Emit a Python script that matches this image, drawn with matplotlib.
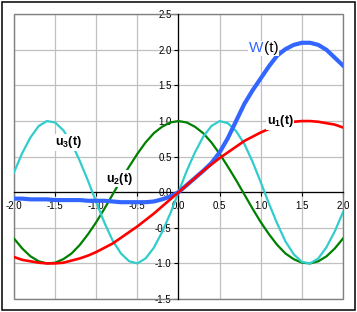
"""Four curves u1, u2, u3 and W(t) on crossed axes, Excel-style chart."""

import matplotlib
matplotlib.use("Agg")
import matplotlib.pyplot as plt
from matplotlib.patches import Rectangle

plt.rcParams["font.family"] = ["Liberation Sans", "DejaVu Sans"]
plt.rcParams["mathtext.fontset"] = "custom"
plt.rcParams["mathtext.rm"] = "Liberation Sans"
plt.rcParams["mathtext.bf"] = "Liberation Sans:bold"

t = [-2.0, -1.9, -1.8, -1.7, -1.6, -1.5, -1.4, -1.3, -1.2, -1.1, -1.0,
     -0.9, -0.8, -0.7, -0.6, -0.5, -0.4, -0.3, -0.2, -0.1, 0.0,
     0.1, 0.2, 0.3, 0.4, 0.5, 0.6, 0.7, 0.8, 0.9, 1.0,
     1.1, 1.2, 1.3, 1.4, 1.5, 1.6, 1.7, 1.8, 1.9, 2.0]

u1 = [-0.91, -0.95, -0.97, -0.99, -1.00, -1.00, -0.99, -0.96, -0.93, -0.89, -0.84,
      -0.78, -0.72, -0.64, -0.56, -0.48, -0.39, -0.30, -0.20, -0.10, 0.00,
      0.10, 0.20, 0.30, 0.39, 0.48, 0.56, 0.64, 0.72, 0.78, 0.84,
      0.89, 0.93, 0.96, 0.99, 1.00, 1.00, 0.99, 0.97, 0.95, 0.91]

u2 = [-0.65, -0.79, -0.90, -0.97, -1.00, -0.99, -0.94, -0.86, -0.74, -0.59, -0.42,
      -0.23, -0.03, 0.17, 0.36, 0.54, 0.70, 0.83, 0.92, 0.98, 1.00,
      0.98, 0.92, 0.83, 0.70, 0.54, 0.36, 0.17, -0.03, -0.23, -0.42,
      -0.59, -0.74, -0.86, -0.94, -0.99, -1.00, -0.97, -0.90, -0.79, -0.65]

u3 = [0.28, 0.55, 0.77, 0.93, 1.00, 0.98, 0.87, 0.69, 0.44, 0.16, -0.14,
      -0.43, -0.68, -0.86, -0.97, -1.00, -0.93, -0.78, -0.56, -0.30, 0.00,
      0.30, 0.56, 0.78, 0.93, 1.00, 0.97, 0.86, 0.68, 0.43, 0.14,
      -0.16, -0.44, -0.69, -0.87, -0.98, -1.00, -0.93, -0.77, -0.55, -0.28]

W = [-0.09, -0.09, -0.10, -0.10, -0.10, -0.11, -0.11, -0.11, -0.11, -0.12, -0.12,
     -0.12, -0.13, -0.14, -0.14, -0.14, -0.14, -0.13, -0.10, -0.06, 0.00,
     0.10, 0.20, 0.30, 0.41, 0.56, 0.76, 1.00, 1.24, 1.43, 1.60,
     1.77, 1.92, 2.01, 2.07, 2.10, 2.10, 2.07, 2.00, 1.89, 1.78]

ticks_x = [-2.0, -1.5, -1.0, -0.5, 0.0, 0.5, 1.0, 1.5, 2.0]
ticks_y = [-1.5, -1.0, -0.5, 0.0, 0.5, 1.0, 1.5, 2.0, 2.5]

fig = plt.figure(figsize=(3.57, 3.12), dpi=100)
ax = fig.add_axes([14 / 357, 13 / 312, 329 / 357, 284.7 / 312])

ax.plot(t, u2, color="#008000", lw=1.6, zorder=3)
ax.plot(t, u3, color="#33CCCC", lw=1.6, zorder=3)
ax.plot(t, W, color="#3366FF", lw=3.0, zorder=3)
ax.plot(t, u1, color="#FF0000", lw=1.9, zorder=3)

ax.set_xlim(-2, 2)
ax.set_ylim(-1.5, 2.5)
ax.set_xticks(ticks_x)
ax.set_yticks(ticks_y)
ax.set_xticklabels([f"{v:.1f}" for v in ticks_x])
ax.set_yticklabels([f"{v:.1f}" for v in ticks_y])
ax.grid(True, color="#C0C0C0", lw=0.9)
ax.set_axisbelow(True)

for side in ("top", "right"):
    ax.spines[side].set_visible(False)
ax.spines["left"].set_position(("data", 0))
ax.spines["bottom"].set_position(("data", 0))
ax.spines["left"].set_linewidth(0.9)
ax.spines["bottom"].set_linewidth(0.9)
ax.spines["left"].set_zorder(2.5)
ax.spines["bottom"].set_zorder(2.5)
ax.add_patch(Rectangle((0, 0), 1, 1, transform=ax.transAxes, fill=False,
                       edgecolor="#808080", lw=1.0, clip_on=False, zorder=2))
ax.tick_params(direction="out", length=3, width=0.8, labelsize=7, pad=2)
ax.tick_params(axis="x", pad=3)

box = dict(facecolor="white", edgecolor="none", pad=0.5)
ax.text(1.035, 2.02, "W", color="#3366FF", fontsize=11, ha="right",
        va="center", bbox=box, zorder=6)
ax.text(1.035, 2.02, "(t)", color="black", fontsize=11, ha="left",
        va="center", bbox=box, zorder=5)
ax.text(1.235, 1.0, r"$\mathbf{u}_\mathbf{1}\mathbf{(t)}$", fontsize=9,
        ha="center", va="center", bbox=box, zorder=5)
ax.text(-0.72, 0.19, r"$\mathbf{u}_\mathbf{2}\mathbf{(t)}$", fontsize=9,
        ha="center", va="center", bbox=box, zorder=5)
ax.text(-1.34, 0.70, r"$\mathbf{u}_\mathbf{3}\mathbf{(t)}$", fontsize=9,
        ha="center", va="center", bbox=box, zorder=5)

fig.patches.append(Rectangle((1.5 / 357, 2.0 / 312), 353 / 357, 308 / 312,
                             transform=fig.transFigure, fill=False,
                             edgecolor="black", lw=1.1))

fig.savefig("out.png", dpi=100)
